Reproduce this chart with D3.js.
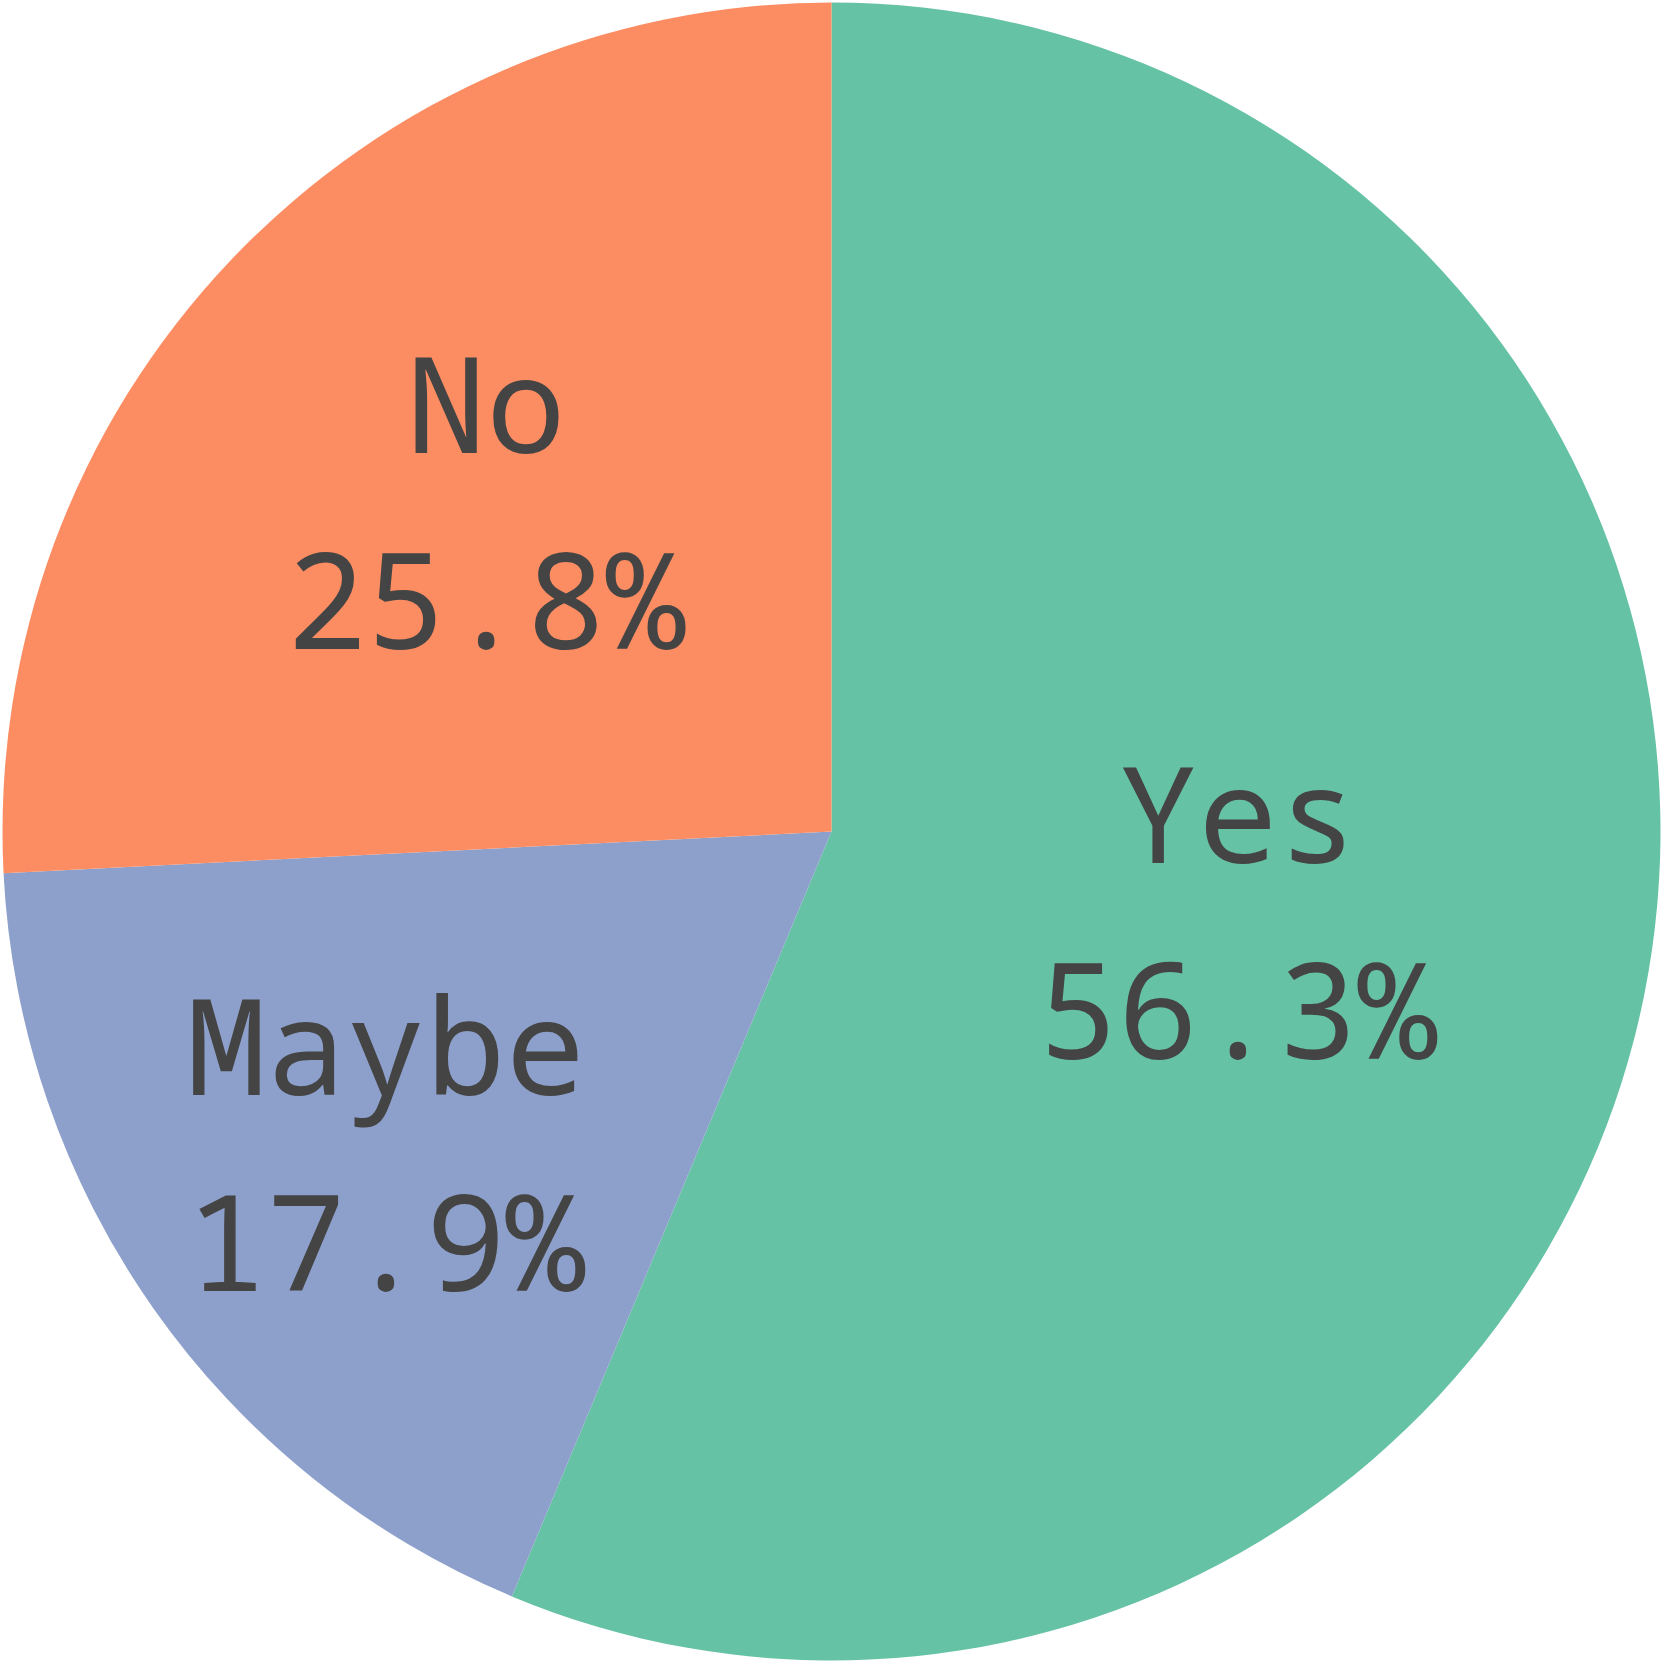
<!DOCTYPE html>
<html>
<head>
<meta charset="utf-8">
<script src="https://cdn.jsdelivr.net/npm/d3@7"></script>
<style>
  html, body { margin: 0; padding: 0; background: #fff; }
  svg { display: block; }
</style>
</head>
<body>
<svg id="chart" width="1662" height="1661"></svg>
<script>
// data
var categories = ['Yes', 'Maybe', 'No'];
var values = [56.3, 17.9, 25.8];
var colors = ['#66c2a5', '#8da0cb', '#fc8d62'];

var width = 1662, height = 1661;
var cx = 831.5, cy = 831.5, radius = 829;
var font = '"Noto Sans Mono"';

// labels sit a bit further out for the thinner slices
var labelRadius = { 'Yes': 0.5, 'No': 0.575, 'Maybe': 0.657 };

var rows = categories.map(function(c, i) {
  return { name: c, value: values[i], color: colors[i] };
});

var svg = d3.select('#chart');
var g = svg.append('g').attr('transform', 'translate(' + cx + ',' + cy + ')');

var pie = d3.pie()
  .value(function(d) { return d.value; })
  .sort(null);

var arc = d3.arc().innerRadius(0).outerRadius(radius);

var arcs = pie(rows);

g.selectAll('path')
  .data(arcs)
  .enter().append('path')
  .attr('d', arc)
  .attr('fill', function(d) { return d.data.color; });

// label text goes straight onto the svg, centred on the slice
arcs.forEach(function(d) {
  var r = radius * labelRadius[d.data.name];
  var a = (d.startAngle + d.endAngle) / 2;
  var x = cx + Math.sin(a) * r;
  var y = cy - Math.cos(a) * r;

  svg.append('text')
    .attr('x', x)
    .attr('y', y - 50)
    .attr('text-anchor', 'middle')
    .attr('font-family', font)
    .attr('font-weight', 400)
    .attr('font-size', 133)
    .attr('fill', '#444')
    .text(d.data.name);

  svg.append('text')
    .attr('x', x)
    .attr('y', y + 146)
    .attr('text-anchor', 'middle')
    .attr('font-family', font)
    .attr('font-weight', 400)
    .attr('font-size', 133)
    .attr('fill', '#444')
    .text(d3.format('.1f')(d.data.value) + '%');
});
</script>
</body>
</html>
